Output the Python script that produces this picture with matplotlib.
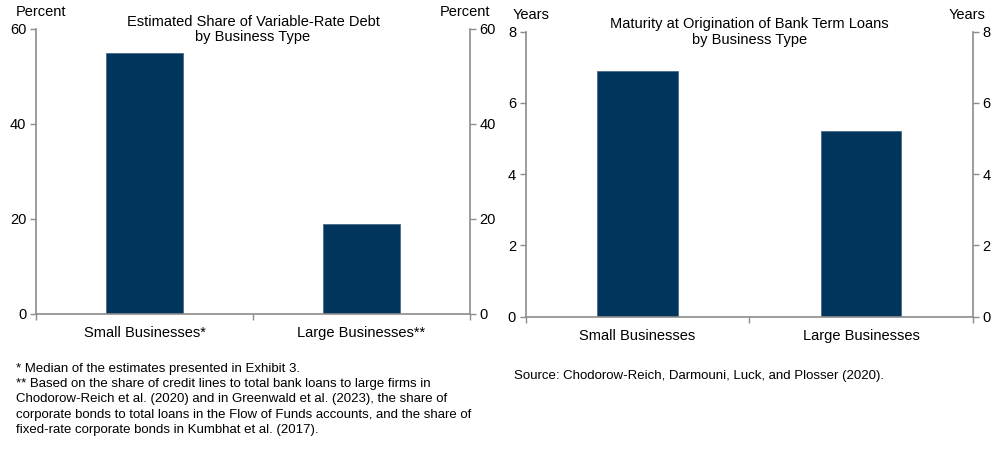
import matplotlib
matplotlib.use("Agg")
from matplotlib import pyplot as plt

plt.rcParams['font.family'] = ['Liberation Sans', 'DejaVu Sans']

# left panel data
share_cats = ['Small Businesses*', 'Large Businesses**']
share_vals = [55, 19]
share_ticks = [0, 20, 40, 60]

# right panel data
mat_cats = ['Small Businesses', 'Large Businesses']
mat_vals = [6.9, 5.2]
mat_ticks = [0, 2, 4, 6, 8]

bar_color = '#02355C'
grey = '#8C8C8C'

fig = plt.figure(figsize=(9.98, 4.51), dpi=100)


def panel(rect, cats, vals, ticks, unit, title, width):
    ax = fig.add_axes(rect)
    x = list(range(len(cats)))
    ax.bar(x, vals, width=width, color=bar_color, edgecolor='#4a6a86', linewidth=0.6, zorder=2)
    ax.set_xlim(-0.5, len(cats) - 0.5)
    ax.set_ylim(ticks[0], ticks[-1])
    ax.set_yticks(ticks)
    ax.set_yticklabels([str(t) for t in ticks])
    ax.set_xticks([i - 0.5 for i in range(len(cats) + 1)])
    ax.set_xticklabels([])
    ax.set_xticks(x, minor=True)
    ax.set_xticklabels(cats, minor=True)
    ax.tick_params(axis='x', which='minor', length=0, pad=9, labelsize=10.5)
    ax.tick_params(axis='x', which='major', length=4, color=grey, width=1)
    ax.tick_params(axis='y', left=True, right=True, labelleft=True, labelright=True,
                   length=4, color=grey, width=1, labelsize=10.5, pad=3)
    ax.spines['top'].set_visible(False)
    for s in ['left', 'right', 'bottom']:
        ax.spines[s].set_color(grey)
        ax.spines[s].set_linewidth(1.2)
    ax.text(0.012, 1.035, unit, transform=ax.transAxes, ha='center', va='bottom', fontsize=10.5)
    ax.text(0.988, 1.035, unit, transform=ax.transAxes, ha='center', va='bottom', fontsize=10.5)
    ax.text(0.5, 1.05, title, transform=ax.transAxes, ha='center', va='top', fontsize=10.5,
            linespacing=1.15)
    return ax


panel([0.0361, 0.3038, 0.4348, 0.6319], share_cats, share_vals, share_ticks, 'Percent',
      'Estimated Share of Variable-Rate Debt\nby Business Type', 0.355)
panel([0.5268, 0.2978, 0.4479, 0.6319], mat_cats, mat_vals, mat_ticks, 'Years',
      'Maturity at Origination of Bank Term Loans\nby Business Type', 0.358)

note_font = ['Liberation Sans Narrow', 'Liberation Sans', 'DejaVu Sans']
notes = ("* Median of the estimates presented in Exhibit 3.\n"
         "** Based on the share of credit lines to total bank loans to large firms in\n"
         "Chodorow-Reich et al. (2020) and in Greenwald et al. (2023), the share of\n"
         "corporate bonds to total loans in the Flow of Funds accounts, and the share of\n"
         "fixed-rate corporate bonds in Kumbhat et al. (2017).")
fig.text(16 / 998, 1 - 363 / 451, notes, ha='left', va='top', fontsize=9.5,
         family=note_font, linespacing=1.36)
fig.text(514 / 998, 1 - 370 / 451, "Source: Chodorow-Reich, Darmouni, Luck, and Plosser (2020).",
         ha='left', va='top', fontsize=9.5, family=note_font)

plt.savefig('out.png', dpi=100)
